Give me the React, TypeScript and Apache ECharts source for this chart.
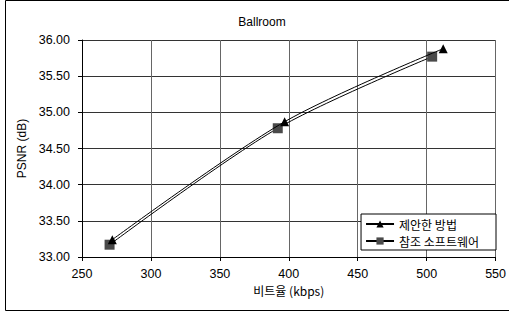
import React, { useEffect, useRef } from "react";
import * as echarts from "echarts";

const title = "Ballroom";
const xName = "비트율 (kbps)";
const yName = "PSNR (dB)";
const seriesNames = ["제안한 방법", "참조 소프트웨어"];
const proposedX = [272, 397, 512];
const proposedY = [33.24, 34.87, 35.88];
const referenceX = [270, 392, 504];
const referenceY = [33.17, 34.78, 35.77];

const font = "Liberation Sans, Arial, sans-serif";
const krFont = "Noto Sans CJK KR, sans-serif";

export default function App() {
  const ref = useRef<HTMLDivElement>(null);
  useEffect(() => {
    if (!ref.current) return;
    const chart = echarts.init(ref.current, null, { renderer: "svg" });
    chart.setOption({
      animation: false,
      backgroundColor: "#fff",
      title: {
        text: title,
        left: 257,
        top: 11,
        textAlign: "center",
        textStyle: { fontFamily: font, fontSize: 12, fontWeight: "normal", color: "#000" },
      },
      graphic: [
        {
          type: "rect",
          shape: { x: 5.5, y: 0.5, width: 520, height: 310 },
          style: { fill: "none", stroke: "#000", lineWidth: 1 },
          silent: true,
          z: 0,
        },
      ],
      grid: { left: 82, right: 9.5, top: 40, bottom: 57, containLabel: false },
      legend: {
        right: 13,
        top: 214,
        orient: "vertical",
        backgroundColor: "#fff",
        borderColor: "#000",
        borderWidth: 1,
        borderRadius: 0,
        padding: [4, 17, 3, 4],
        itemGap: 5,
        itemWidth: 28,
        itemHeight: 9,
        textStyle: { fontFamily: krFont, fontSize: 12, color: "#000" },
        data: seriesNames,
      },
      xAxis: {
        type: "value",
        min: 250,
        max: 550,
        interval: 50,
        name: xName,
        nameLocation: "middle",
        nameGap: 27,
        nameTextStyle: { fontFamily: krFont, fontSize: 12, color: "#000" },
        axisLine: { show: true, lineStyle: { color: "#000", width: 1 } },
        axisTick: { show: true, inside: false, length: 4, lineStyle: { color: "#000" } },
        axisLabel: { fontFamily: font, fontSize: 12.5, color: "#000", margin: 10 },
        splitLine: { show: true, lineStyle: { color: "#666", width: 1 } },
      },
      yAxis: {
        type: "value",
        min: 33,
        max: 36,
        interval: 0.5,
        name: yName,
        nameLocation: "middle",
        nameGap: 53,
        nameRotate: 90,
        nameTextStyle: { fontFamily: font, fontSize: 12, color: "#000" },
        axisLine: { show: true, lineStyle: { color: "#000", width: 1 } },
        axisTick: { show: true, inside: false, length: 4, lineStyle: { color: "#000" } },
        axisLabel: {
          fontFamily: font,
          fontSize: 12.5,
          color: "#000",
          margin: 12,
          formatter: (v: number) => v.toFixed(2),
        },
        splitLine: { show: true, lineStyle: { color: "#333", width: 1 } },
      },
      series: [
        {
          name: seriesNames[0],
          type: "line",
          smooth: 0.3,
          data: proposedX.map((x, i) => [x, proposedY[i]]),
          symbol: "triangle",
          symbolSize: 9,
          lineStyle: { color: "#000", width: 1 },
          itemStyle: { color: "#000" },
          z: 3,
        },
        {
          name: seriesNames[1],
          type: "line",
          smooth: 0.3,
          data: referenceX.map((x, i) => [x, referenceY[i]]),
          symbol: "rect",
          symbolSize: 10,
          lineStyle: { color: "#000", width: 1 },
          itemStyle: { color: "#4a4a4a" },
          z: 2,
        },
      ],
    });
    return () => chart.dispose();
  }, []);
  return (
    <div
      ref={ref}
      style={{ position: "absolute", left: 0, top: 0, width: 509, height: 314 }}
    />
  );
}
